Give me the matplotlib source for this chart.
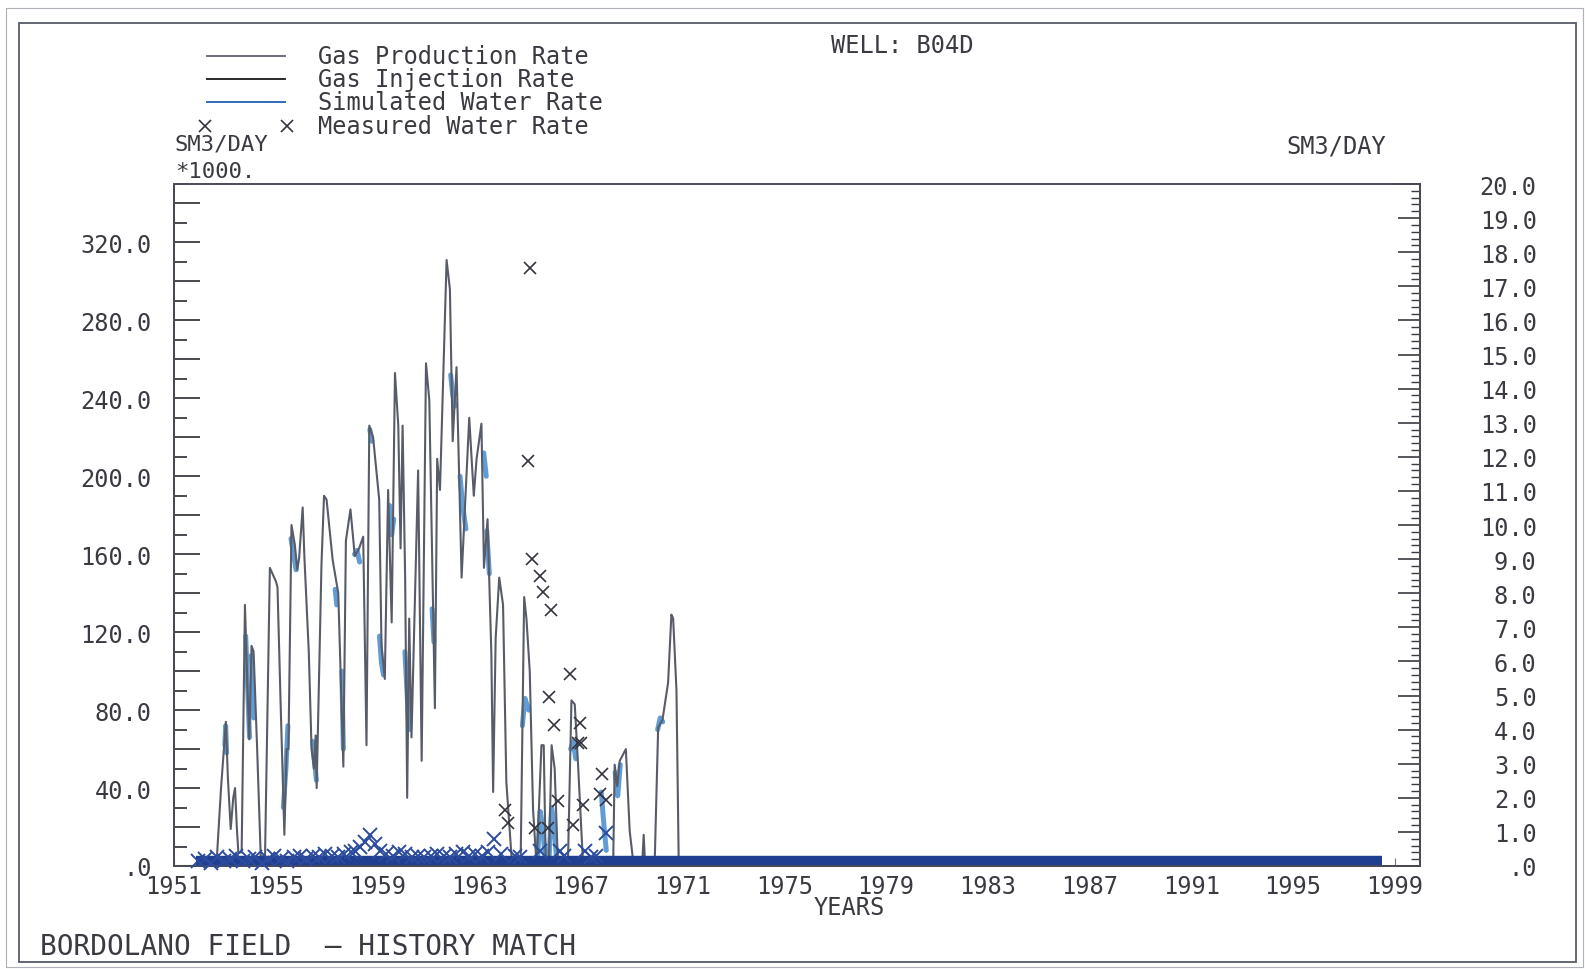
import matplotlib
matplotlib.use("Agg")
import matplotlib.pyplot as plt
from matplotlib.lines import Line2D
from matplotlib.patches import Rectangle
from matplotlib.ticker import MultipleLocator, FuncFormatter

# ---- data (years, rates) ----
# gas production rate, SM3/DAY *1000 (left axis)
gas_years = [1951.0, 1952.60, 1952.68, 1952.85, 1953.04, 1953.12, 1953.23, 1953.33, 1953.40,
             1953.47, 1953.53, 1953.66, 1953.79, 1953.88, 1953.96, 1954.05, 1954.13, 1954.27,
             1954.41, 1954.58, 1954.77, 1955.01, 1955.07, 1955.20, 1955.34, 1955.43, 1955.50,
             1955.62, 1955.75, 1955.85, 1955.92, 1956.06, 1956.13, 1956.30, 1956.41, 1956.50,
             1956.57, 1956.61, 1956.80, 1956.90, 1957.00, 1957.24, 1957.46, 1957.66, 1957.76,
             1957.94, 1958.11, 1958.28, 1958.44, 1958.57, 1958.68, 1958.83, 1959.07, 1959.16,
             1959.29, 1959.42, 1959.56, 1959.69, 1959.82, 1959.91, 1959.99, 1960.09, 1960.17,
             1960.25, 1960.34, 1960.60, 1960.74, 1960.91, 1961.04, 1961.26, 1961.35, 1961.46,
             1961.72, 1961.85, 1961.96, 1962.11, 1962.31, 1962.61, 1962.79, 1962.90, 1963.09,
             1963.19, 1963.33, 1963.48, 1963.55, 1963.65, 1963.79, 1963.94, 1964.07, 1964.27,
             1964.30, 1964.63, 1964.77, 1964.86, 1964.99, 1965.12, 1965.26, 1965.45, 1965.54,
             1965.62, 1965.74, 1965.85, 1965.97, 1966.10, 1966.49, 1966.63, 1966.76, 1966.89,
             1967.09, 1968.27, 1968.33, 1968.43, 1968.53, 1968.77, 1968.92, 1969.08, 1969.41,
             1969.47, 1969.53, 1969.90, 1970.04, 1970.21, 1970.43, 1970.56, 1970.63, 1970.76,
             1970.85, 1998.5]
gas_rate = [0, 0, 3, 40, 74, 45, 19, 35, 40,
            20, 7, 7, 134, 95, 65, 113, 110, 60,
            5, 5, 153, 146, 143, 80, 16, 60, 60,
            175, 165, 152, 158, 184, 158, 110, 60, 50,
            67, 40, 155, 190, 188, 157, 140, 51, 167,
            183, 159, 163, 169, 62, 226, 220, 188, 113,
            96, 193, 125, 253, 226, 163, 226, 148, 35,
            127, 66, 203, 54, 258, 239, 81, 209, 193,
            311, 296, 218, 256, 148, 230, 190, 209, 227,
            153, 178, 109, 38, 117, 148, 134, 43, 5,
            0, 0, 138, 127, 100, 29, 0, 62, 62,
            0, 0, 62, 50, 0, 0, 85, 83, 52,
            0, 0, 52, 41, 54, 60, 18, 0, 0,
            16, 0, 0, 71, 75, 94, 129, 127, 90,
            0, 0]

# gas injection rate (stays at zero)
inj_years = [1951.0, 1998.5]
inj_rate = [0, 0]

# light blue pieces riding on the production curve (left axis units)
blue_years = [
    [1953.00, 1953.03, 1953.07], [1953.82, 1953.90, 1953.97], [1954.04, 1954.09, 1954.13],
    [1955.30, 1955.40, 1955.48], [1955.60, 1955.70, 1955.80], [1956.45, 1956.52, 1956.60],
    [1957.34, 1957.40], [1957.60, 1957.66], [1958.10, 1958.20, 1958.30],
    [1958.70, 1958.78], [1959.08, 1959.16, 1959.24], [1959.48, 1959.56, 1959.64],
    [1960.08, 1960.16, 1960.24], [1961.15, 1961.22], [1961.88, 1961.96, 1962.05],
    [1962.25, 1962.35, 1962.48], [1963.18, 1963.28], [1963.30, 1963.40],
    [1964.70, 1964.80, 1964.95], [1965.30, 1965.40, 1965.50, 1965.60],
    [1965.75, 1965.85, 1965.95, 1966.05], [1966.60, 1966.70, 1966.80],
    [1967.80, 1967.90, 1968.00], [1968.35, 1968.45, 1968.55], [1970.02, 1970.12, 1970.22]]
blue_rate = [
    [62, 72, 58], [118, 90, 66], [108, 95, 76],
    [30, 50, 72], [168, 160, 152], [64, 55, 44],
    [142, 134], [100, 60], [160, 162, 156],
    [224, 218], [118, 104, 98], [185, 170, 178],
    [110, 90, 70], [132, 115], [252, 242, 236],
    [200, 185, 173], [212, 200], [172, 150],
    [72, 86, 80], [5, 28, 20, 3],
    [4, 30, 22, 2], [60, 64, 55],
    [38, 22, 8], [48, 36, 52], [70, 76, 74]]

# simulated water rate, SM3/DAY (right axis) - flat band along the bottom
simw_years = [1951.85, 1964.3, 1967.2, 1998.5]
simw_rate = [0.15, 0.15, 0.15, 0.15]

# measured water rate, SM3/DAY (right axis)
mw_years = [1951.95, 1952.20, 1952.45, 1952.70, 1952.95, 1953.20, 1953.45, 1953.70, 1953.95,
            1954.20, 1954.45, 1954.70, 1954.95, 1955.20, 1955.45, 1955.70, 1955.95, 1956.20,
            1956.45, 1956.70, 1956.95, 1957.20, 1957.45, 1957.70, 1957.95, 1958.10, 1958.30,
            1958.50, 1958.70, 1958.90, 1959.10, 1959.35, 1959.60, 1959.85, 1960.10, 1960.35,
            1960.60, 1960.85, 1961.10, 1961.35, 1961.60, 1961.85, 1962.10, 1962.35, 1962.60,
            1962.85, 1963.10, 1963.35, 1963.60, 1963.85,
            1964.01, 1964.14, 1964.99, 1964.93, 1965.06, 1965.39, 1965.52, 1965.82, 1966.59,
            1965.75, 1965.93, 1966.96, 1966.87, 1967.00, 1967.85, 1967.77, 1967.98, 1966.10,
            1967.10, 1965.18, 1965.71, 1966.69, 1967.98, 1967.17, 1965.39, 1966.18,
            1964.40, 1964.60, 1966.35, 1967.40, 1967.60]
mw_rate = [0.15, 0.20, 0.10, 0.25, 0.15, 0.20, 0.30, 0.15, 0.20,
           0.25, 0.10, 0.20, 0.30, 0.20, 0.15, 0.25, 0.30, 0.20,
           0.30, 0.25, 0.35, 0.30, 0.25, 0.35, 0.40, 0.45, 0.55,
           0.70, 0.90, 0.65, 0.45, 0.35, 0.30, 0.40, 0.35, 0.25,
           0.30, 0.25, 0.30, 0.35, 0.30, 0.25, 0.35, 0.40, 0.30,
           0.35, 0.30, 0.40, 0.80, 0.35,
           1.64, 1.27, 17.55, 11.87, 8.99, 8.51, 8.03, 7.50, 5.64,
           4.96, 4.14, 4.20, 3.60, 3.60, 2.70, 2.10, 1.93, 1.90,
           1.80, 1.10, 1.10, 1.20, 0.97, 0.44, 0.44, 0.44,
           0.30, 0.25, 0.30, 0.25, 0.30]

year_ticks = [1951, 1955, 1959, 1963, 1967, 1971, 1975, 1979, 1983, 1987, 1991, 1995, 1999]

W, H = 1585, 970
ink = '#3a3a42'
plt.rcParams['font.family'] = ['DejaVu Sans Mono', 'DejaVu Sans']


def fx(px):
    return px / W


def fy(py):
    return 1 - py / H


def num(v, pos=None):
    s = "%.1f" % v
    if s.startswith("0."):
        s = s[1:]
    return s


fig = plt.figure(figsize=(W / 100, H / 100), dpi=100)
ax = fig.add_axes([fx(174), fy(867), (1420 - 174) / W, (867 - 185) / H])
ax2 = ax.twinx()

ax.set_xlim(1951, 2000)
ax.set_ylim(0, 350)
ax2.set_ylim(0, 20)

for b, r in zip(blue_years, blue_rate):
    ax.plot(b, r, color='#4f92d2', lw=3.6, alpha=0.9, zorder=2, solid_capstyle='round')
ax.plot(inj_years, inj_rate, color='#222222', lw=1.0, zorder=2)
ax.plot(gas_years, gas_rate, color='#585c68', lw=1.5, zorder=3)

ax2.plot(simw_years, simw_rate, color='#1f3f90', lw=7.5, zorder=2, clip_on=False,
         solid_capstyle='butt')
# low readings sit inside the blue band and print bluish, the rest dark
low_x = [x for x, v in zip(mw_years, mw_rate) if v < 1.0]
low_v = [v for v in mw_rate if v < 1.0]
hi_x = [x for x, v in zip(mw_years, mw_rate) if v >= 1.0]
hi_v = [v for v in mw_rate if v >= 1.0]
ax2.plot(low_x, low_v, linestyle='None', marker='x', markersize=10, mew=1.4,
         color='#2b4c9e', zorder=3, clip_on=False)
ax2.plot(hi_x, hi_v, linestyle='None', marker='x', markersize=9, mew=1.2,
         color='#34343f', zorder=3, clip_on=False)

# spines
for a in (ax, ax2):
    for s in a.spines.values():
        s.set_color('#4a4a55')
        s.set_linewidth(1.3)
ax.spines['top'].set_color('#7a6f86')

# left axis ticks
ax.yaxis.set_major_locator(MultipleLocator(20))
ax.yaxis.set_minor_locator(MultipleLocator(10))
ax.yaxis.set_major_formatter(FuncFormatter(lambda v, p: num(v) if round(v) % 40 == 0 else ''))
ax.tick_params(axis='y', which='major', direction='in', length=19, width=1.3, color=ink,
               labelsize=17, labelcolor=ink, pad=16)
ax.tick_params(axis='y', which='minor', direction='in', length=9, width=1.3, color=ink)

# x axis
ax.set_xticks(year_ticks)
ax.set_xticklabels([str(y) for y in year_ticks])
ax.tick_params(axis='x', direction='in', length=6, width=0.8, color='#777777',
               labelsize=17, labelcolor=ink, pad=6)

# right axis ticks
ax2.set_yticks([i for i in range(21)])
ax2.set_yticklabels([num(i) for i in range(21)])
ax2.yaxis.set_minor_locator(MultipleLocator(0.2))
ax2.tick_params(axis='y', which='major', direction='in', length=16, width=1.2, color=ink,
                labelsize=17, labelcolor=ink, pad=84)
ax2.tick_params(axis='y', which='minor', direction='in', length=6.5, width=1.0, color=ink)
plt.setp(ax2.get_yticklabels(), ha='right')

# legend drawn by hand, like the plotter did
rows = [(57, 'Gas Production Rate', '#6b6f7a', None),
        (80, 'Gas Injection Rate', '#2a2a2a', None),
        (103, 'Simulated Water Rate', '#2f6db5', None),
        (127, 'Measured Water Rate', '#34343f', 'x')]
for y, label, c, m in rows:
    if m is None:
        fig.add_artist(Line2D([fx(207), fx(285)], [fy(y), fy(y)], transform=fig.transFigure,
                              color=c, lw=1.4))
    else:
        fig.add_artist(Line2D([fx(205), fx(287)], [fy(y), fy(y)], transform=fig.transFigure,
                              linestyle='None', marker='x', markersize=9, mew=1.2, color=c))
    fig.text(fx(318), fy(y), label, fontsize=17, color=ink, va='center', ha='left')

fig.text(fx(831), fy(46), 'WELL: B04D', fontsize=17, color=ink, va='center', ha='left')
fig.text(fx(175), fy(145), 'SM3/DAY', fontsize=16, color=ink, va='center', ha='left')
fig.text(fx(175), fy(172), '*1000.', fontsize=16, color=ink, va='center', ha='left')
fig.text(fx(1286), fy(147), 'SM3/DAY', fontsize=17, color=ink, va='center', ha='left')
fig.text(fx(849), fy(908), 'YEARS', fontsize=17, color=ink, va='center', ha='center')
fig.text(fx(40), fy(947), 'BORDOLANO FIELD  \u2013 HISTORY MATCH', fontsize=20, color=ink,
         va='center', ha='left')

# page frames
fig.add_artist(Rectangle((fx(19), fy(963)), (1576 - 19) / W, (963 - 24) / H,
                         transform=fig.transFigure, fill=False, lw=1.3, ec='#555a66'))
fig.add_artist(Rectangle((fx(6), fy(968)), (1583 - 6) / W, (968 - 9) / H,
                         transform=fig.transFigure, fill=False, lw=0.8, ec='#b0b0b8'))

fig.savefig('out.png', dpi=100)
